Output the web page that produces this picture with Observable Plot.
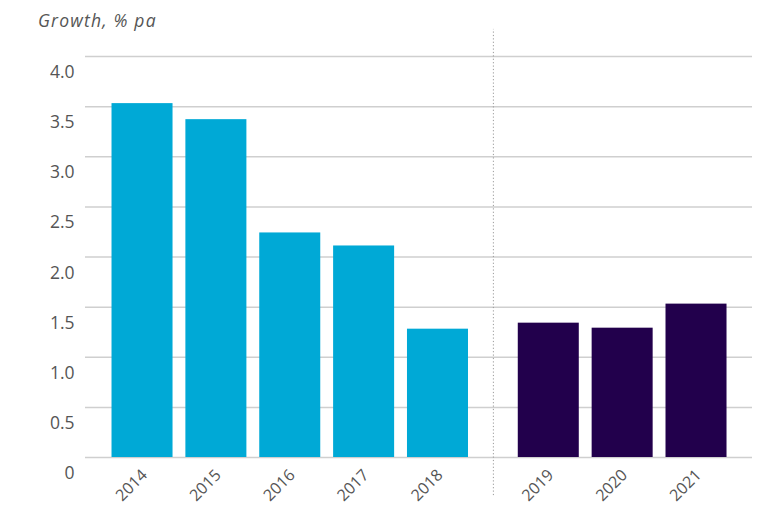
<!DOCTYPE html>
<html>
<head>
<meta charset="utf-8">
<script src="https://cdn.jsdelivr.net/npm/d3@7"></script>
<script src="https://cdn.jsdelivr.net/npm/@observablehq/plot@0.6"></script>
<style>
  html, body { margin: 0; padding: 0; background: #fff; }
  #title { height: 31px; box-sizing: border-box; padding: 12px 0 0 38px; font: italic 17.5px "Open Sans", sans-serif; letter-spacing: 1.2px; line-height: 17px; color: #555; }
  svg { overflow: visible; display: block; }
</style>
</head>
<body>
<div id="title">Growth, % pa</div>
<div id="chart"></div>
<script>
const years = ["2014", "2015", "2016", "2017", "2018", "2019", "2020", "2021"];
const growth = [3.53, 3.37, 2.24, 2.11, 1.28, 1.34, 1.29, 1.53];
const period = ["actual", "actual", "actual", "actual", "actual", "forecast", "forecast", "forecast"];
const yTicks = [0, 0.5, 1, 1.5, 2, 2.5, 3, 3.5, 4];
const colors = {actual: "#00A9D6", forecast: "#22004C"};

const data = years.map((y, i) => ({
  year: y,
  value: growth[i],
  period: period[i],
  pos: i + (period[i] === "forecast" ? 0.5 : 0)
}));
const half = 0.413;
const dividerPos = 4.75;

const chart = Plot.plot({
  width: 761,
  height: 475,
  marginLeft: 85,
  marginRight: 9,
  marginTop: 25,
  marginBottom: 49,
  style: {fontFamily: "'Open Sans', sans-serif", background: "#fff"},
  x: {type: "linear", domain: [-0.772, 8.258], axis: null},
  y: {domain: [0, 4], axis: null},
  marks: [
    Plot.gridY(yTicks, {stroke: "#cfcfcf", strokeOpacity: 1, strokeWidth: 1.5}),
    Plot.rectY(data, {
      x1: d => d.pos - half,
      x2: d => d.pos + half,
      y1: 0,
      y2: "value",
      fill: d => colors[d.period]
    }),
    Plot.ruleX([dividerPos], {y1: -0.38, y2: 4.27, stroke: "#999", strokeWidth: 1, strokeDasharray: "1.2,2.2"}),
    Plot.text(yTicks, {
      x: -0.772, y: d => d, text: d => d === 0 ? "0" : d.toFixed(1),
      textAnchor: "end", dx: -11, dy: 16, fontSize: 17.5, fill: "#555",
      letterSpacing: "2.5px"
    }),
    Plot.text(data, {
      x: "pos", y: 0, text: "year", rotate: -45,
      textAnchor: "end", dx: 2, dy: 15, fontSize: 16, fill: "#555",
      letterSpacing: "0.6px"
    })
  ]
});
document.getElementById("chart").appendChild(chart);
</script>
</body>
</html>
